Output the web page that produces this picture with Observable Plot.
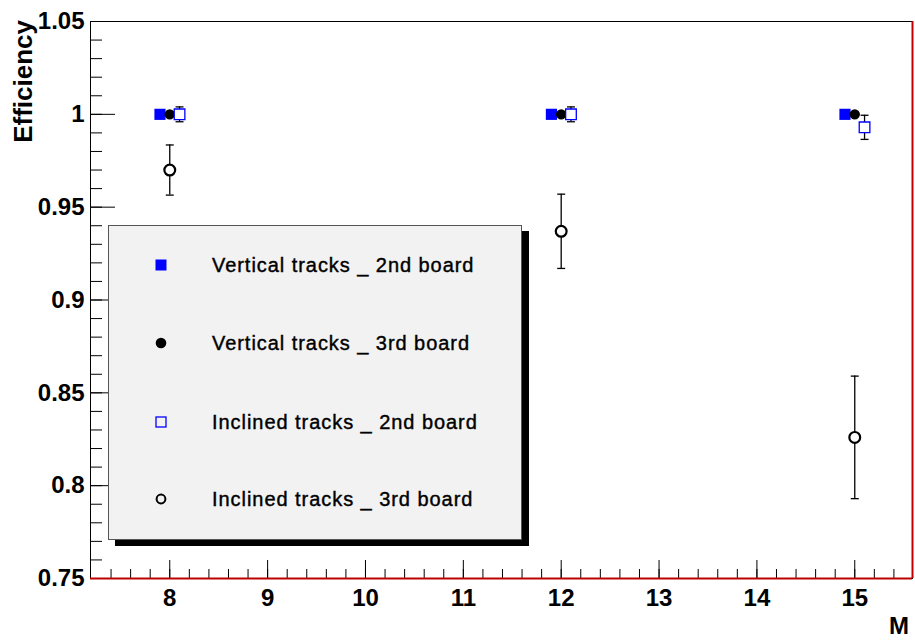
<!DOCTYPE html>
<html>
<head>
<meta charset="utf-8">
<script src="https://cdn.jsdelivr.net/npm/d3@7"></script>
<script src="https://cdn.jsdelivr.net/npm/@observablehq/plot@0.6"></script>
<style>
  body { margin: 0; background: #fff; }
  #wrap { position: relative; width: 915px; height: 640px; font-family: "Liberation Sans", Arial, sans-serif; }
  #legend { position: absolute; left: 108px; top: 225px; width: 412px; height: 313px;
    background: #f2f2f2; border: 1px solid #555; box-shadow: 7px 6px 0 0 #000; }
  .row { position: absolute; left: 0; height: 24px; display: flex; align-items: center; }
  .row svg { position: absolute; left: 46px; }
  .row span { position: absolute; left: 103px; white-space: nowrap; font-size: 20px; letter-spacing: 0.95px; color: #000; -webkit-text-stroke: 0.4px #000; }
</style>
</head>
<body>
<div id="wrap"></div>
<script>
// ---- data ----
const M = [8, 12, 15];
const vert2X = [7.9, 11.9, 14.9];
const vert2Y = [1.0, 1.0, 1.0];
const vert3X = [8, 12, 15];
const vert3Y = [1.0, 1.0, 1.0];
const incl2X = [8.1, 12.1, 15.1];
const incl2Y = [1.0, 1.0, 0.993];
const incl2Err = [0.004, 0.004, 0.0065];
const incl3X = [8, 12, 15];
const incl3Y = [0.970, 0.937, 0.826];
const incl3Err = [0.0135, 0.020, 0.033];

const seriesNames = ["Vertical tracks _ 2nd board", "Vertical tracks _ 3rd board",
                     "Inclined tracks _ 2nd board", "Inclined tracks _ 3rd board"];

const xDomain = [7.19, 15.59];
const yDomain = [0.75, 1.05];
const xMajor = [8, 9, 10, 11, 12, 13, 14, 15];
const xLabels = ["8", "9", "10", "11", "12", "13", "14", "15"];
const yMajor = [0.75, 0.8, 0.85, 0.9, 0.95, 1.0, 1.05];
const yLabels = ["0.75", "0.8", "0.85", "0.9", "0.95", "1", "1.05"];
const xMinor = d3.range(37, 78).map(i => i / 5);     // 7.4 .. 15.4 step 0.2
const yMinor = d3.range(75, 106).map(i => i / 100);  // 0.75 .. 1.05 step 0.01

const rows = (xs, ys, errs) => xs.map((x, i) => ({x, y: ys[i], lo: errs ? ys[i] - errs[i] : ys[i], hi: errs ? ys[i] + errs[i] : ys[i]}));
const v2 = rows(vert2X, vert2Y);
const v3 = rows(vert3X, vert3Y);
const i2 = rows(incl2X, incl2Y, incl2Err);
const i3 = rows(incl3X, incl3Y, incl3Err);

const W = 915, H = 640, mL = 90, mR = 3, mT = 21, mB = 62;
const pw = W - mL - mR, ph = H - mT - mB;

const cap = { draw(ctx, size) { const w = Math.sqrt(size); ctx.moveTo(-w / 2, 0); ctx.lineTo(w / 2, 0); } };

const chart = Plot.plot({
  width: W, height: H,
  marginLeft: mL, marginRight: mR, marginTop: mT, marginBottom: mB,
  x: { domain: xDomain, label: null },
  y: { domain: yDomain, label: null },
  style: { fontFamily: "'Liberation Sans', Arial, sans-serif", fontSize: "24px", fontWeight: "bold", background: "#fff", overflow: "visible" },
  marks: [
    Plot.frame({ stroke: "#000", strokeWidth: 1 }),
    // minor/major ticks (inward)
    Plot.tickY(yMinor, { y: d => d, stroke: "#000", insetRight: pw - 12 }),
    Plot.tickY(yMajor, { y: d => d, stroke: "#000", insetRight: pw - 25 }),
    Plot.tickX(xMinor, { x: d => d, stroke: "#000", insetTop: ph - 9 }),
    Plot.tickX(xMajor, { x: d => d, stroke: "#000", insetTop: ph - 18 }),
    Plot.axisY({ ticks: yMajor, tickSize: 0, tickPadding: 6, tickFormat: (d, i) => yLabels[yMajor.indexOf(d)] }),
    Plot.axisX({ ticks: xMajor, tickSize: 0, tickPadding: 10, tickFormat: d => xLabels[xMajor.indexOf(d)] }),
    Plot.ruleX([xDomain[1]], { stroke: "#c00000", strokeWidth: 2 }),
    Plot.ruleY([yDomain[0]], { stroke: "#c00000", strokeWidth: 2 }),
    // error bars
    Plot.ruleX(i2, { x: "x", y1: "lo", y2: "hi", stroke: "#000", strokeWidth: 1.3 }),
    Plot.dot(i2, { x: "x", y: "lo", symbol: cap, r: 4.5, stroke: "#000", strokeWidth: 1.3 }),
    Plot.dot(i2, { x: "x", y: "hi", symbol: cap, r: 4.5, stroke: "#000", strokeWidth: 1.3 }),
    Plot.ruleX(i3, { x: "x", y1: "lo", y2: "hi", stroke: "#000", strokeWidth: 1.3 }),
    Plot.dot(i3, { x: "x", y: "lo", symbol: cap, r: 4.5, stroke: "#000", strokeWidth: 1.3 }),
    Plot.dot(i3, { x: "x", y: "hi", symbol: cap, r: 4.5, stroke: "#000", strokeWidth: 1.3 }),
    // markers
    Plot.dot(v2, { x: "x", y: "y", symbol: "square", r: 6.3, fill: "#0000ff", stroke: "none" }),
    Plot.dot(v3, { x: "x", y: "y", symbol: "circle", r: 5.2, fill: "#000", stroke: "none" }),
    Plot.dot(i2, { x: "x", y: "y", symbol: "square", r: 6, fill: "#fff", stroke: "#0000ff", strokeWidth: 1.3 }),
    Plot.dot(i3, { x: "x", y: "y", symbol: "circle", r: 5.4, fill: "#fff", stroke: "#000", strokeWidth: 2.2 })
  ]
});

const wrap = document.getElementById("wrap");
wrap.appendChild(chart);

const svg = d3.select(chart);
svg.append("text")
  .attr("transform", "translate(32,20) rotate(-90)")
  .attr("text-anchor", "end")
  .attr("font-size", 26).attr("font-weight", "bold").attr("fill", "#000")
  .text("Efficiency");
svg.append("text")
  .attr("x", 909).attr("y", 634)
  .attr("text-anchor", "end")
  .attr("font-size", 24).attr("font-weight", "bold").attr("fill", "#000")
  .text("M");

// legend
const legend = document.createElement("div");
legend.id = "legend";
const markerSvgs = [
  '<rect x="0.5" y="0.5" width="11" height="11" fill="#0000ff"/>',
  '<circle cx="6" cy="6" r="5.3" fill="#000"/>',
  '<rect x="1" y="1" width="10" height="10" fill="none" stroke="#0000ff" stroke-width="1.3"/>',
  '<circle cx="6" cy="6" r="4.4" fill="none" stroke="#000" stroke-width="2"/>'
];
const rowTops = [27, 105, 184, 261];
seriesNames.forEach((name, i) => {
  const r = document.createElement("div");
  r.className = "row";
  r.style.top = rowTops[i] + "px";
  r.innerHTML = `<svg width="12" height="12" viewBox="0 0 12 12" style="top:6px">${markerSvgs[i]}</svg><span>${name}</span>`;
  legend.appendChild(r);
});
wrap.appendChild(legend);
</script>
</body>
</html>
